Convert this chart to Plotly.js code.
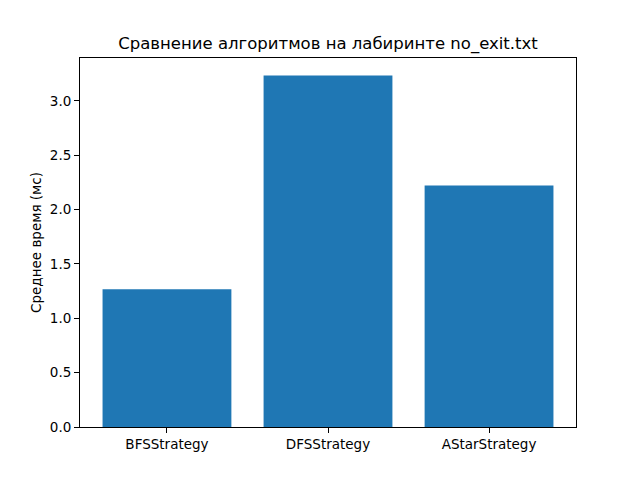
<!DOCTYPE html>
<html>
<head>
<meta charset="utf-8">
<script src="https://cdn.plot.ly/plotly-3.0.1.min.js"></script>
<style>
  html, body { margin: 0; padding: 0; background: #fff; }
  #chart { width: 640px; height: 480px; }
</style>
</head>
<body>
<div id="chart"></div>
<script>
const strategies = ["BFSStrategy", "DFSStrategy", "AStarStrategy"];
const avgTimeMs = [1.267, 3.232, 2.222];

const positions = strategies.map((s, i) => i);
const yMax = Math.max(...avgTimeMs) * 1.05;

const data = [
    {
        x: positions,
        y: avgTimeMs,
        type: "bar",
        width: 0.8,
        marker: { color: "#1f77b4", line: { width: 0 } },
        hoverinfo: "y"
    }
];

const axisStyle = {
    showline: true,
    mirror: true,
    linecolor: "#000",
    linewidth: 1,
    ticks: "outside",
    ticklen: 5,
    tickwidth: 1,
    tickcolor: "#000",
    showgrid: false,
    zeroline: false,
    tickfont: { size: 13.5, color: "#000" }
};

const layout = {
    width: 640,
    height: 480,
    margin: { l: 80, r: 64, t: 58, b: 53 },
    paper_bgcolor: "#fff",
    plot_bgcolor: "#fff",
    font: { family: "DejaVu Sans", color: "#000" },
    showlegend: false,
    title: {
        text: "Сравнение алгоритмов на лабиринте no_exit.txt",
        font: { size: 16.5, color: "#000" },
        x: 0.5 * (80 + 576) / 640,
        xanchor: "center",
        y: 1 - 43 / 480,
        yanchor: "middle"
    },
    xaxis: Object.assign({}, axisStyle, {
        range: [-0.54, 2.54],
        tickmode: "array",
        tickvals: positions,
        ticktext: strategies
    }),
    yaxis: Object.assign({}, axisStyle, {
        range: [0, yMax],
        tickmode: "array",
        tickvals: [0, 0.5, 1, 1.5, 2, 2.5, 3],
        ticktext: ["0.0", "0.5", "1.0", "1.5", "2.0", "2.5", "3.0"],
        title: { text: "Среднее время (мс)", font: { size: 13.5, color: "#000" }, standoff: 5 }
    })
};

Plotly.newPlot("chart", data, layout, { displayModeBar: false, staticPlot: true });
</script>
</body>
</html>
